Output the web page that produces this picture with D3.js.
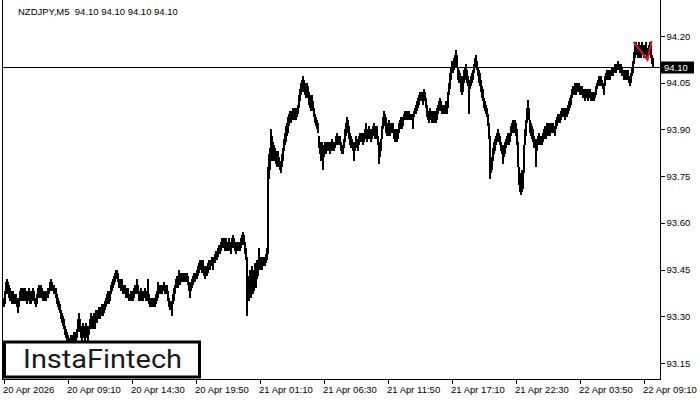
<!DOCTYPE html>
<html>
<head>
<meta charset="utf-8">
<script src="https://cdn.jsdelivr.net/npm/d3@7/dist/d3.min.js"></script>
<style>
  html, body { margin: 0; padding: 0; background: #fff; }
  svg { display: block; }
  .ax text { font-family: "Liberation Sans", Arial, sans-serif; font-size: 9.5px; fill: #000; }
</style>
</head>
<body>
<div id="chart"></div>
<script>
// ---------------- DATA ----------------
const symbolTitle = "NZDJPY,M5  94.10 94.10 94.10 94.10";
const lastPrice = 94.10;

// bar highs (M5, one per bar, oldest first)
const highs = [
93.36,93.38,93.41,93.42,93.41,93.40,93.39,93.38,93.37,93.38,
93.37,93.36,93.37,93.36,93.35,93.36,93.38,93.39,93.38,93.39,
93.38,93.39,93.38,93.37,93.38,93.39,93.38,93.37,93.38,93.39,
93.38,93.36,93.35,93.37,93.39,93.40,93.39,93.40,93.39,93.38,
93.37,93.38,93.37,93.38,93.39,93.39,93.41,93.42,93.41,93.40,
93.40,93.39,93.39,93.37,93.36,93.35,93.34,93.32,93.31,93.30,
93.29,93.27,93.26,93.25,93.24,93.23,93.23,93.24,93.23,93.24,
93.25,93.24,93.25,93.26,93.29,93.31,93.29,93.27,93.26,93.28,
93.27,93.26,93.28,93.27,93.25,93.27,93.29,93.31,93.30,93.29,
93.31,93.30,93.32,93.31,93.32,93.33,93.32,93.33,93.34,93.33,
93.34,93.35,93.36,93.37,93.38,93.37,93.38,93.40,93.41,93.42,
93.43,93.44,93.45,93.45,93.44,93.42,93.42,93.41,93.42,93.40,
93.39,93.40,93.39,93.38,93.39,93.37,93.37,93.38,93.37,93.38,
93.39,93.40,93.39,93.42,93.40,93.38,93.37,93.39,93.38,93.37,
93.38,93.39,93.38,93.37,93.42,93.37,93.36,93.36,93.35,93.36,
93.35,93.36,93.37,93.38,93.41,93.40,93.39,93.40,93.39,93.40,
93.41,93.40,93.39,93.40,93.38,93.36,93.35,93.34,93.35,93.37,
93.39,93.40,93.42,93.43,93.42,93.45,93.43,93.44,93.43,93.44,
93.43,93.44,93.43,93.44,93.43,93.41,93.40,93.41,93.42,93.43,
93.44,93.43,93.44,93.45,93.46,93.47,93.48,93.48,93.47,93.48,
93.46,93.45,93.46,93.45,93.47,93.48,93.47,93.48,93.49,93.48,
93.49,93.50,93.51,93.50,93.52,93.53,93.52,93.54,93.55,93.54,
93.55,93.54,93.55,93.54,93.53,93.55,93.54,93.53,93.55,93.56,
93.55,93.54,93.53,93.54,93.53,93.54,93.53,93.55,93.56,93.57,
93.56,93.54,93.52,93.49,93.43,93.42,93.45,93.44,93.46,93.43,
93.45,93.47,93.46,93.48,93.47,93.52,93.48,93.49,93.48,93.49,
93.49,93.48,93.50,93.52,93.78,93.82,93.84,93.90,93.88,93.86,
93.85,93.84,93.83,93.82,93.83,93.81,93.80,93.80,93.82,93.84,
93.87,93.89,93.91,93.92,93.94,93.95,93.96,93.95,93.96,93.97,
93.96,93.97,93.96,93.97,93.98,94.01,94.03,94.05,94.06,94.07,
94.06,94.05,94.04,94.05,94.04,94.02,94.01,94.00,94.01,93.99,
93.97,93.95,93.94,93.93,93.92,93.88,93.86,93.84,93.86,93.84,
93.85,93.86,93.85,93.86,93.85,93.86,93.85,93.86,93.87,93.86,
93.85,93.86,93.88,93.89,93.88,93.87,93.88,93.86,93.85,93.84,
93.87,93.90,93.92,93.94,93.93,93.91,93.89,93.88,93.87,93.86,
93.84,93.86,93.88,93.87,93.86,93.88,93.89,93.88,93.89,93.88,
93.89,93.90,93.92,93.89,93.90,93.91,93.90,93.89,93.90,93.91,
93.92,93.91,93.90,93.91,93.88,93.86,93.85,93.87,93.91,93.94,
93.96,93.95,93.94,93.92,93.91,93.93,93.92,93.92,93.91,93.92,
93.90,93.89,93.90,93.89,93.90,93.92,93.93,93.94,93.93,93.94,
93.95,93.96,93.95,93.96,93.95,93.96,93.95,93.94,93.95,93.94,
93.96,93.97,93.98,93.99,94.00,94.01,94.02,94.01,94.02,94.01,
94.03,94.02,94.00,93.98,93.96,93.95,93.97,93.96,93.95,93.96,
93.95,93.96,93.95,93.97,93.98,93.99,94.00,93.99,93.98,93.97,
93.98,93.97,93.99,93.98,94.02,94.05,94.08,94.10,94.12,94.11,
94.13,94.14,94.155,94.14,94.10,94.09,94.08,94.07,94.06,94.07,
94.09,94.10,94.11,94.09,94.07,94.06,94.06,94.07,94.08,94.09,
94.11,94.13,94.14,94.12,94.10,94.09,94.08,94.06,94.04,94.03,
94.00,93.99,93.98,93.97,93.95,93.92,93.88,93.80,93.81,93.84,
93.86,93.87,93.88,93.89,93.90,93.89,93.88,93.86,93.85,93.84,
93.85,93.86,93.87,93.88,93.89,93.88,93.89,93.91,93.92,93.93,
93.92,93.93,93.92,93.90,93.86,93.78,93.76,93.75,93.77,93.76,
93.85,93.90,93.93,93.97,93.995,93.97,93.93,93.92,93.91,93.90,
93.88,93.87,93.87,93.86,93.88,93.89,93.88,93.87,93.88,93.89,
93.90,93.91,93.90,93.92,93.91,93.92,93.91,93.92,93.91,93.92,
93.91,93.91,93.93,93.94,93.95,93.94,93.95,93.96,93.97,93.96,
93.97,93.96,93.97,93.96,93.98,93.99,94.00,94.01,94.03,94.04,
94.04,94.05,94.04,94.05,94.04,94.05,94.04,94.03,94.04,94.03,
94.03,94.02,94.03,94.02,94.03,94.02,94.03,94.02,94.01,94.02,
94.01,94.02,94.04,94.05,94.06,94.07,94.06,94.07,94.06,94.05,
94.05,94.07,94.08,94.09,94.08,94.09,94.08,94.09,94.10,94.09,
94.10,94.11,94.10,94.11,94.12,94.11,94.10,94.11,94.10,94.09,
94.09,94.08,94.09,94.08,94.09,94.07,94.06,94.08,94.10,94.12,
94.15,94.17,94.18,94.17,94.16,94.18,94.17,94.16,94.18,94.17,
94.16,94.17,94.18,94.16,94.15,94.17,94.18,94.17,94.14,94.13
];

// bar lows
const lows = [
93.33,93.34,93.37,93.38,93.37,93.36,93.35,93.35,93.34,93.35,
93.34,93.34,93.34,93.33,93.31,93.33,93.35,93.36,93.35,93.36,
93.35,93.36,93.35,93.34,93.35,93.36,93.34,93.34,93.35,93.36,
93.35,93.34,93.33,93.34,93.36,93.37,93.36,93.37,93.36,93.35,
93.35,93.35,93.35,93.36,93.36,93.37,93.38,93.39,93.38,93.38,
93.37,93.37,93.36,93.34,93.33,93.32,93.31,93.29,93.28,93.27,
93.26,93.24,93.23,93.22,93.21,93.20,93.20,93.21,93.20,93.21,
93.22,93.21,93.22,93.23,93.25,93.27,93.25,93.23,93.22,93.24,
93.23,93.22,93.24,93.23,93.22,93.24,93.26,93.27,93.26,93.26,
93.27,93.26,93.28,93.28,93.29,93.30,93.29,93.30,93.31,93.30,
93.31,93.32,93.33,93.34,93.35,93.34,93.35,93.37,93.38,93.39,
93.40,93.41,93.42,93.42,93.41,93.39,93.39,93.38,93.39,93.37,
93.37,93.37,93.36,93.36,93.37,93.35,93.35,93.35,93.35,93.35,
93.36,93.37,93.37,93.38,93.37,93.35,93.35,93.36,93.35,93.35,
93.36,93.36,93.35,93.35,93.36,93.34,93.33,93.33,93.33,93.33,
93.33,93.33,93.34,93.35,93.36,93.37,93.37,93.37,93.37,93.38,
93.38,93.37,93.37,93.38,93.35,93.33,93.32,93.32,93.30,93.34,
93.35,93.37,93.39,93.40,93.39,93.40,93.40,93.41,93.41,93.41,
93.41,93.42,93.41,93.41,93.40,93.38,93.36,93.38,93.39,93.40,
93.41,93.41,93.42,93.42,93.43,93.44,93.45,93.45,93.44,93.45,
93.43,93.42,93.43,93.43,93.44,93.45,93.45,93.46,93.46,93.45,
93.47,93.47,93.48,93.48,93.49,93.50,93.50,93.51,93.52,93.52,
93.52,93.51,93.52,93.51,93.51,93.52,93.51,93.50,93.52,93.53,
93.52,93.51,93.50,93.51,93.51,93.51,93.51,93.52,93.53,93.54,
93.53,93.50,93.48,93.30,93.36,93.35,93.38,93.36,93.39,93.37,
93.38,93.40,93.39,93.42,93.43,93.45,93.45,93.46,93.45,93.46,
93.46,93.46,93.47,93.48,93.50,93.74,93.77,93.80,93.81,93.80,
93.81,93.80,93.79,93.78,93.79,93.78,93.77,93.76,93.78,93.80,
93.83,93.85,93.86,93.88,93.89,93.91,93.92,93.92,93.93,93.94,
93.93,93.94,93.93,93.94,93.95,93.97,93.99,94.01,94.02,94.03,
94.02,94.01,94.00,94.01,94.00,93.98,93.97,93.96,93.97,93.96,
93.94,93.92,93.91,93.90,93.89,93.84,93.82,93.80,93.81,93.77,
93.81,93.83,93.82,93.83,93.83,93.83,93.82,93.83,93.84,93.83,
93.83,93.84,93.85,93.86,93.85,93.85,93.86,93.83,93.82,93.82,
93.84,93.86,93.88,93.90,93.89,93.87,93.85,93.84,93.84,93.83,
93.80,93.83,93.84,93.84,93.83,93.85,93.86,93.86,93.86,93.85,
93.86,93.87,93.87,93.86,93.87,93.88,93.87,93.86,93.87,93.88,
93.88,93.87,93.87,93.88,93.85,93.79,93.81,93.83,93.87,93.90,
93.92,93.91,93.89,93.88,93.88,93.89,93.88,93.89,93.89,93.89,
93.87,93.86,93.87,93.86,93.87,93.89,93.90,93.91,93.90,93.91,
93.93,93.93,93.93,93.94,93.93,93.93,93.93,93.93,93.93,93.90,
93.94,93.95,93.95,93.96,93.97,93.98,93.99,93.99,93.99,93.98,
94.00,93.99,93.97,93.94,93.93,93.92,93.93,93.93,93.92,93.93,
93.92,93.93,93.92,93.93,93.95,93.96,93.97,93.96,93.95,93.95,
93.95,93.95,93.96,93.95,93.97,94.01,94.03,94.06,94.08,94.08,
94.09,94.10,94.11,94.10,94.06,94.05,94.05,94.02,94.01,94.02,
94.05,94.06,94.07,94.05,94.04,93.95,94.03,94.04,94.05,94.06,
94.08,94.10,94.10,94.09,94.07,94.05,94.04,94.02,94.00,93.99,
93.97,93.96,93.95,93.94,93.91,93.87,93.74,93.76,93.77,93.80,
93.82,93.83,93.85,93.86,93.87,93.86,93.85,93.83,93.82,93.79,
93.81,93.82,93.84,93.85,93.86,93.85,93.86,93.88,93.89,93.90,
93.89,93.90,93.88,93.85,93.78,93.72,93.70,93.69,93.70,93.71,
93.76,93.85,93.88,93.92,93.94,93.93,93.89,93.88,93.87,93.86,
93.84,93.84,93.78,93.83,93.85,93.86,93.85,93.85,93.85,93.86,
93.87,93.88,93.87,93.88,93.88,93.89,93.88,93.89,93.89,93.89,
93.89,93.88,93.90,93.91,93.92,93.92,93.92,93.93,93.94,93.94,
93.94,93.93,93.94,93.94,93.95,93.96,93.97,93.98,94.00,94.01,
94.01,94.02,94.01,94.02,94.02,94.02,94.01,94.01,94.02,94.00,
94.00,93.99,94.00,94.00,93.99,94.00,94.00,93.99,93.99,94.00,
93.99,94.00,94.01,94.03,94.04,94.04,94.04,94.05,94.04,94.03,
94.01,94.04,94.06,94.07,94.06,94.07,94.06,94.07,94.07,94.07,
94.08,94.09,94.08,94.09,94.09,94.09,94.08,94.09,94.07,94.07,
94.06,94.06,94.07,94.06,94.06,94.05,94.04,94.05,94.07,94.08,
94.11,94.13,94.14,94.14,94.13,94.14,94.13,94.13,94.14,94.14,
94.13,94.14,94.14,94.13,94.13,94.14,94.14,94.13,94.11,94.10
];

// time axis: bar index of each labelled tick, and its label
const timeTickBars = [0, 64, 128, 192, 256, 320, 384, 448, 512, 576, 640];
const timeTickLabels = ["20 Apr 2026", "20 Apr 09:10", "20 Apr 14:30", "20 Apr 19:50",
  "21 Apr 01:10", "21 Apr 06:30", "21 Apr 11:50", "21 Apr 17:10", "21 Apr 22:30",
  "22 Apr 03:50", "22 Apr 09:10"];

// price axis ticks
const priceTicks = [93.15, 93.30, 93.45, 93.60, 93.75, 93.90, 94.05, 94.20];

// red pattern (bar index, price)
const patternBars = [630, 644, 648];
const patternPrices = [94.181, 94.123, 94.184];

// ---------------- CHART ----------------
const W = 700, H = 400;
const svg = d3.select("#chart").append("svg").attr("width", W).attr("height", H);

const plotLeft = 2.5, plotRight = 660.5, plotBottom = 379.5;

const x = d3.scaleLinear().domain([0, 658]).range([3, 661]);
const y = d3.scaleLinear().domain([93.15, 94.20]).range([363, 36]);

// bars (1px bar plus its open/close ticks -> ~2px wide ink)
const bars = highs.map((h, i) => ({ i, h, l: lows[i] }));
svg.append("g")
  .attr("shape-rendering", "crispEdges")
  .selectAll("rect").data(bars).join("rect")
  .attr("x", d => x(d.i))
  .attr("width", 2)
  .attr("y", d => Math.round(y(d.h)))
  .attr("height", d => Math.max(1, Math.round(y(d.l)) - Math.round(y(d.h))))
  .attr("fill", "#000");

// last close tick
svg.append("line")
  .attr("x1", x(highs.length - 1) + 1).attr("x2", x(highs.length - 1) + 3)
  .attr("y1", Math.round(y(lastPrice)) + 0.5).attr("y2", Math.round(y(lastPrice)) + 0.5)
  .attr("stroke", "#000").attr("shape-rendering", "crispEdges");

// current price line
svg.append("line")
  .attr("x1", plotLeft).attr("x2", plotRight)
  .attr("y1", Math.round(y(lastPrice)) + 0.5).attr("y2", Math.round(y(lastPrice)) + 0.5)
  .attr("stroke", "#000").attr("stroke-width", 1).attr("shape-rendering", "crispEdges");

// red pattern
svg.append("path")
  .datum(patternBars.map((b, k) => [b, patternPrices[k]]))
  .attr("d", d3.line().x(d => x(d[0]) + 0.5).y(d => y(d[1])))
  .attr("fill", "none").attr("stroke", "#e8141c").attr("stroke-width", 2)
  .attr("stroke-linejoin", "miter");

// frame
svg.append("path")
  .attr("d", `M${plotLeft},0 V${plotBottom} H${plotRight} V0`)
  .attr("fill", "none").attr("stroke", "#000").attr("shape-rendering", "crispEdges");

// right price axis
const yAxis = d3.axisRight(y).tickValues(priceTicks).tickSize(4).tickPadding(2)
  .tickFormat(d3.format(".2f"));
const gy = svg.append("g").attr("class", "ax")
  .attr("transform", `translate(${plotRight},0)`).call(yAxis);
gy.select(".domain").remove();
gy.selectAll(".tick line").attr("stroke", "#000").attr("shape-rendering", "crispEdges");

// bottom time axis
const xAxis = d3.axisBottom(x).tickValues(timeTickBars).tickSize(4).tickPadding(3)
  .tickFormat((d, k) => timeTickLabels[k]);
const gx = svg.append("g").attr("class", "ax")
  .attr("transform", `translate(0.5,${plotBottom})`).call(xAxis);
gx.select(".domain").remove();
gx.selectAll(".tick line").attr("stroke", "#000").attr("shape-rendering", "crispEdges");
gx.selectAll(".tick text").attr("text-anchor", "start").attr("x", -1);

// current price label
const py = Math.round(y(lastPrice)) + 0.5;
svg.append("rect").attr("x", 661).attr("y", py - 6).attr("width", 33).attr("height", 12)
  .attr("fill", "#000");
svg.append("text").attr("x", 664).attr("y", py + 3.5)
  .attr("font-family", "Liberation Sans, Arial, sans-serif").attr("font-size", 9.5)
  .attr("fill", "#fff").text(d3.format(".2f")(lastPrice));

// title
svg.append("text").attr("x", 18).attr("y", 15)
  .attr("font-family", "Liberation Sans, Arial, sans-serif").attr("font-size", 9.5)
  .attr("fill", "#000").attr("xml:space", "preserve").style("white-space", "pre")
  .text(symbolTitle);

// logo box
svg.append("rect").attr("x", 4.5).attr("y", 342).attr("width", 195).attr("height", 35)
  .attr("fill", "#fff").attr("stroke", "#000").attr("stroke-width", 3);
svg.append("text").attr("x", 23).attr("y", 368)
  .attr("font-family", "Roboto, 'Open Sans', sans-serif").attr("font-size", 25)
  .attr("font-weight", 400).attr("fill", "#1a1a1a")
  .attr("textLength", 159).attr("lengthAdjust", "spacingAndGlyphs")
  .text("InstaFintech");
</script>
</body>
</html>
